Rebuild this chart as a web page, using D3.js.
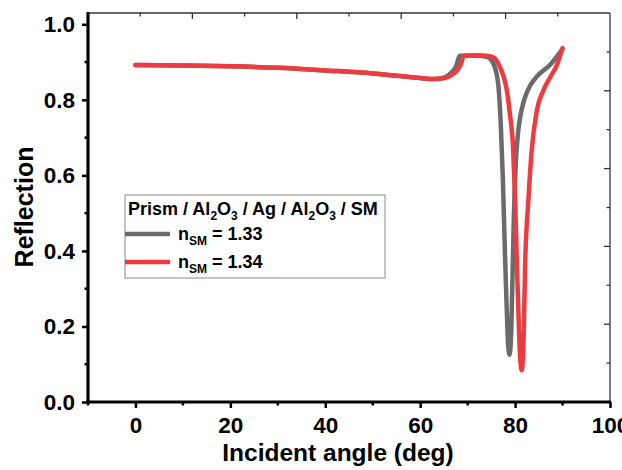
<!DOCTYPE html>
<html>
<head>
<meta charset="utf-8">
<script src="https://cdn.jsdelivr.net/npm/d3@7"></script>
<style>
html,body{margin:0;padding:0;background:#fff;}
svg{display:block;font-family:"Liberation Sans",Arial,sans-serif;font-weight:bold;}
</style>
</head>
<body>
<svg id="chart" width="622" height="470"></svg>
<script>
// ---- data ----
const anglesGray = [0,10,20,30,40,50,55,60,63,65,66,67,67.7,68.1,68.4,70,72,74,75,76,76.6,77,77.4,77.8,78.2,78.5,78.8,79.1,79.4,79.7,80.1,80.6,81.4,82.7,84.6,87.4,90];
const reflGray   = [0.892,0.891,0.889,0.885,0.878,0.870,0.864,0.858,0.855,0.859,0.866,0.878,0.893,0.911,0.917,0.917,0.917,0.914,0.905,0.875,0.82,0.73,0.60,0.42,0.26,0.16,0.125,0.16,0.30,0.47,0.62,0.71,0.775,0.826,0.862,0.893,0.935];
const anglesRed  = [0,10,20,30,40,50,55,60,63,65,66,67,68,68.6,69,69.4,72,74,75.5,76.5,77.5,78.2,78.9,79.6,80.0,80.4,80.8,81.1,81.4,81.8,82.1,82.8,83.5,84.6,86.0,87.4,88.8,90];
const reflRed    = [0.892,0.891,0.889,0.885,0.878,0.870,0.864,0.858,0.855,0.857,0.861,0.869,0.881,0.895,0.912,0.917,0.918,0.917,0.912,0.895,0.865,0.830,0.764,0.667,0.534,0.357,0.20,0.11,0.084,0.17,0.357,0.534,0.667,0.773,0.826,0.860,0.892,0.937];
const seriesNames = ["1.33","1.34"];
const seriesColors = ["#6b6b6b","#ee3b3f"];
const xTicks = [0,20,40,60,80,100];
const yTicks = [0.0,0.2,0.4,0.6,0.8,1.0];

const svg = d3.select("#chart");
const L=88, R=610, T=13, B=402;
const x = d3.scaleLinear().domain([-10,100]).range([L,R]);
const y = d3.scaleLinear().domain([0,1.03]).range([B,T]);
const FONT = "Liberation Sans, Arial, sans-serif";

// frame top/right (thin)
const topS = d3.scaleLinear().domain([0,10]).range([L,R]);
const rightS = d3.scaleLinear().domain([0,10]).range([B,T]);
svg.append("line").attr("x1",L).attr("x2",R).attr("y1",T).attr("y2",T).attr("stroke","#333").attr("stroke-width",1.3);
svg.append("line").attr("x1",R).attr("x2",R).attr("y1",T).attr("y2",B).attr("stroke","#333").attr("stroke-width",1.3);
d3.range(1,10).forEach(i=>{
  const len = i%2===0?6:3.5;
  svg.append("line").attr("x1",topS(i)).attr("x2",topS(i)).attr("y1",T).attr("y2",T+len).attr("stroke","#333").attr("stroke-width",1.3);
  svg.append("line").attr("x1",R).attr("x2",R-len).attr("y1",rightS(i)).attr("y2",rightS(i)).attr("stroke","#333").attr("stroke-width",1.3);
});

// curves
const line = d3.line().x(d=>x(d[0])).y(d=>y(d[1])).curve(d3.curveMonotoneX);
const grayData = anglesGray.map((a,i)=>[a,reflGray[i]]);
const redData = anglesRed.map((a,i)=>[a,reflRed[i]]);
[grayData, redData].forEach((dat,i)=>{
  svg.append("path").datum(dat).attr("d",line).attr("fill","none")
    .attr("stroke",seriesColors[i]).attr("stroke-width",4.5).attr("stroke-linejoin","round").attr("stroke-linecap","round");
});

// bottom axis
const gx = svg.append("g").attr("transform",`translate(0,${B})`)
  .call(d3.axisBottom(x).tickValues(xTicks).tickSize(6).tickPadding(6).tickFormat(d3.format("d")));
gx.select(".domain").remove();
gx.selectAll(".tick line").attr("stroke","#000").attr("stroke-width",2.5);
gx.selectAll(".tick text").attr("font-size",22.5).attr("font-weight","bold").attr("fill","#000").attr("font-family",FONT)
  .attr("dy",null).attr("y",31);
d3.range(-10,101,20).forEach(v=>{
  svg.append("line").attr("x1",x(v)).attr("x2",x(v)).attr("y1",B).attr("y2",B+3.5).attr("stroke","#000").attr("stroke-width",2.5);
});
svg.append("line").attr("x1",L-1.5).attr("x2",R+1).attr("y1",B).attr("y2",B).attr("stroke","#000").attr("stroke-width",3.2);

// left axis
const gy = svg.append("g").attr("transform",`translate(${L},0)`)
  .call(d3.axisLeft(y).tickValues(yTicks).tickSize(6).tickPadding(7).tickFormat(d3.format(".1f")));
gy.select(".domain").remove();
gy.selectAll(".tick line").attr("stroke","#000").attr("stroke-width",2.5);
gy.selectAll(".tick text").attr("font-size",22.5).attr("font-weight","bold").attr("fill","#000").attr("font-family",FONT);
d3.range(0.1,1.01,0.2).forEach(v=>{
  svg.append("line").attr("x1",L).attr("x2",L-3.5).attr("y1",y(v)).attr("y2",y(v)).attr("stroke","#000").attr("stroke-width",2.5);
});
svg.append("line").attr("x1",L).attr("x2",L).attr("y1",T-1).attr("y2",B+1.5).attr("stroke","#000").attr("stroke-width",3.2);

// axis titles
svg.append("text").attr("x",338).attr("y",461).attr("text-anchor","middle")
  .attr("font-size",24.5).attr("font-weight","bold").text("Incident angle (deg)");
svg.append("text").attr("transform",`translate(33,207) rotate(-90)`).attr("text-anchor","middle")
  .attr("font-size",25).attr("font-weight","bold").text("Reflection");

// legend
const lg = svg.append("g");
lg.append("rect").attr("x",125).attr("y",195).attr("width",260).attr("height",83)
  .attr("fill","#fff").attr("stroke","#888").attr("stroke-width",1);
const title = lg.append("text").attr("x",128).attr("y",215).attr("font-size",18).attr("font-weight","bold");
const parts = [["Prism / Al",0],["2",1],["O",0],["3",1],[" / Ag / Al",0],["2",1],["O",0],["3",1],[" / SM",0]];
parts.forEach((p,i)=>{
  const t = title.append("tspan").text(p[0]);
  if(p[1]){ t.attr("font-size",12).attr("dy",5); }
  else if(i>0 && parts[i-1][1]){ t.attr("dy",-5); }
});
[0,1].forEach(i=>{
  const yy = 234 + i*28;
  lg.append("line").attr("x1",125).attr("x2",170).attr("y1",yy).attr("y2",yy).attr("stroke",seriesColors[i]).attr("stroke-width",4.5);
  const t = lg.append("text").attr("x",178).attr("y",yy+6).attr("font-size",18).attr("font-weight","bold");
  t.append("tspan").text("n");
  t.append("tspan").text("SM").attr("font-size",12).attr("dy",5);
  t.append("tspan").text(" = " + seriesNames[i]).attr("dy",-5);
});
</script>
</body>
</html>
